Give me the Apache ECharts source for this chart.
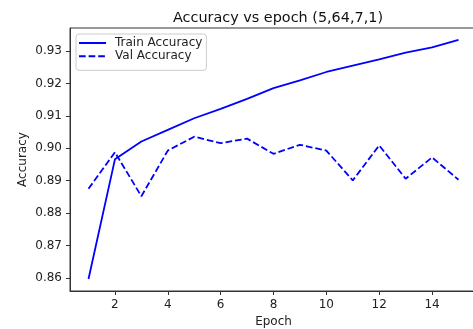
<!DOCTYPE html>
<html>
<head>
<meta charset="utf-8">
<script src="https://cdn.jsdelivr.net/npm/echarts@6/dist/echarts.min.js"></script>
<style>
  html, body { margin: 0; padding: 0; background: #fff; }
  #chart { width: 473px; height: 329px; }
</style>
</head>
<body>
<div id="chart"></div>
<script>
// Training history for model config (5,64,7,1)
const epochs = [1, 2, 3, 4, 5, 6, 7, 8, 9, 10, 11, 12, 13, 14, 15];
const trainAccuracy = [0.8596, 0.8966, 0.9021, 0.9057, 0.9093, 0.9122, 0.9153, 0.9186, 0.9210,
                       0.9236, 0.9256, 0.9275, 0.9296, 0.9312, 0.9335];
const valAccuracy = [0.8875, 0.8988, 0.8852, 0.8993, 0.9036, 0.9016, 0.9030, 0.8983, 0.9011,
                     0.8993, 0.8901, 0.9009, 0.8906, 0.8972, 0.8903];
const xTicks = [2, 4, 6, 8, 10, 12, 14];
const yTicks = [0.86, 0.87, 0.88, 0.89, 0.90, 0.91, 0.92, 0.93];

// 5% padding on both axes around the data extent
const allY = trainAccuracy.concat(valAccuracy);
const yLo = Math.min(...allY), yHi = Math.max(...allY);
const yPad = (yHi - yLo) * 0.05;
const xLo = Math.min(...epochs), xHi = Math.max(...epochs);
const xPad = (xHi - xLo) * 0.05;

const pairs = (vals) => epochs.map((e, i) => [e, vals[i]]);

const FONT = 'DejaVu Sans';
const INK = '#222';
const SPINE = '#333';

const chart = echarts.init(document.getElementById('chart'), null, { renderer: 'canvas' });
chart.setOption({
  animation: false,
  backgroundColor: '#fff',
  title: {
    text: 'Accuracy vs epoch (5,64,7,1)',
    left: 273,
    textAlign: 'center',
    top: 6,
    textStyle: { fontFamily: FONT, fontSize: 14.4, fontWeight: 'normal', color: '#111' }
  },
  grid: {
    left: 70, top: 28, width: 407, height: 263,
    // plot area runs past the right edge of the canvas; keep it at its set size
    outerBoundsMode: 'none',
    show: true, borderColor: SPINE, borderWidth: 1, backgroundColor: 'transparent'
  },
  legend: {
    orient: 'vertical',
    left: 76, top: 34,
    padding: [3, 4, 8, 2],
    itemWidth: 27, itemHeight: 14, itemGap: 1.3,
    // plain line handles only, no marker in the middle
    itemStyle: { opacity: 0 },
    backgroundColor: 'rgba(255,255,255,0.8)',
    borderColor: '#cccccc', borderWidth: 1, borderRadius: 3,
    textStyle: { fontFamily: FONT, fontSize: 12, color: INK, padding: [0, 0, 0, 4] },
    data: ['Train Accuracy', 'Val Accuracy']
  },
  xAxis: {
    type: 'value',
    min: xLo - xPad, max: xHi + xPad,
    name: 'Epoch', nameLocation: 'middle', nameGap: 25, nameMoveOverlap: false,
    nameTextStyle: { fontFamily: FONT, fontSize: 12, color: INK },
    axisLine: { show: true, lineStyle: { color: SPINE, width: 1 } },
    axisTick: { show: true, inside: false, length: 4, customValues: xTicks, lineStyle: { color: SPINE } },
    axisLabel: { margin: 8, customValues: xTicks, fontFamily: FONT, fontSize: 12, color: INK },
    splitLine: { show: false }
  },
  yAxis: {
    type: 'value',
    min: yLo - yPad, max: yHi + yPad,
    name: 'Accuracy', nameLocation: 'middle', nameGap: 41, nameRotate: 90, nameMoveOverlap: false,
    nameTextStyle: { fontFamily: FONT, fontSize: 12, color: INK },
    axisLine: { show: true, lineStyle: { color: SPINE, width: 1 } },
    axisTick: { show: true, inside: false, length: 4, customValues: yTicks, lineStyle: { color: SPINE } },
    axisLabel: {
      margin: 8, customValues: yTicks, fontFamily: FONT, fontSize: 12, color: INK,
      formatter: (v) => v.toFixed(2)
    },
    splitLine: { show: false }
  },
  series: [
    {
      name: 'Train Accuracy',
      type: 'line',
      data: pairs(trainAccuracy),
      symbol: 'none', showSymbol: false,
      lineStyle: { color: '#0000ff', width: 1.8 },
      itemStyle: { color: '#0000ff' }
    },
    {
      name: 'Val Accuracy',
      type: 'line',
      data: pairs(valAccuracy),
      symbol: 'none', showSymbol: false,
      lineStyle: { color: '#0000ff', width: 1.8, type: [6.7, 2.9] },
      itemStyle: { color: '#0000ff' }
    }
  ]
});
</script>
</body>
</html>
